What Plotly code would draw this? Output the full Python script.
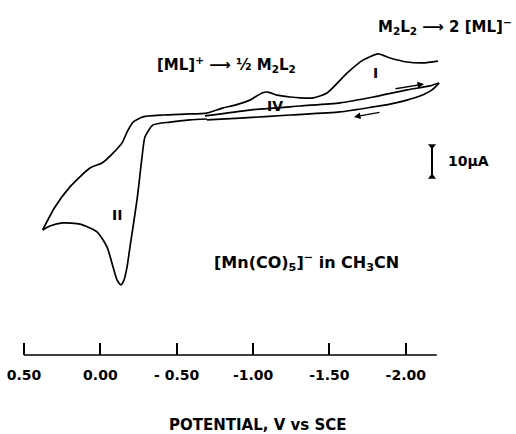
import plotly.graph_objects as go

# Forward/upper branch (from -2.2 V back toward the switching tip at +0.38 V)
V_up = [-2.211, -2.113, -2.008, -1.897, -1.818, -1.720, -1.615, -1.484, -1.393, -1.308,
        -1.242, -1.157, -1.098, -1.059, -0.980, -0.882, -0.803, -0.698, -0.554, -0.410,
        -0.279, -0.214, -0.175, -0.142, -0.083, -0.011, 0.068, 0.199, 0.297, 0.378]
I_up = [54.5, 53.9, 54.2, 55.5, 56.8, 54.8, 50.6, 44.2, 42.6, 42.6,
        42.9, 43.5, 44.5, 44.2, 41.9, 40.3, 39.4, 37.7, 37.4, 37.1,
        36.5, 34.8, 31.6, 28.1, 24.8, 21.6, 20.0, 13.9, 7.4, 0.0]

# Lower branch (from the tip through peak II back to the plateau)
V_low = [0.378, 0.330, 0.245, 0.133, 0.022, -0.044, -0.083, -0.109, -0.135, -0.155,
         -0.175, -0.194, -0.240, -0.273, -0.292, -0.345, -0.456, -0.587, -0.698]
I_low = [0.0, 1.3, 2.3, 1.9, -0.6, -5.5, -11.9, -16.1, -17.7, -16.1,
         -11.9, -5.5, 9.7, 23.5, 30.0, 33.9, 34.8, 35.5, 35.8]

# Narrow loop (second scan between -0.7 and -2.2 V)
V_loop_a = [-0.685, -0.980, -1.308, -1.569, -1.786, -2.008, -2.159, -2.218]
I_loop_a = [36.8, 38.7, 40.0, 41.0, 42.9, 45.2, 46.5, 47.4]
V_loop_b = [-2.218, -2.172, -2.093, -2.008, -1.897, -1.786, -1.569, -1.242, -0.915, -0.698]
I_loop_b = [47.4, 45.2, 43.2, 41.9, 40.6, 39.7, 38.1, 37.1, 36.1, 35.5]

tick_vals = [0.5, 0.0, -0.5, -1.0, -1.5, -2.0]
tick_text = ["0.50", "0.00", "- 0.50", "-1.00", "-1.50", "-2.00"]

scale_V = -2.172
scale_I = [27.1, 17.1]

FONT = "DejaVu Sans"
black = "#000000"

fig = go.Figure()
line = dict(color=black, width=1.7, shape="spline", smoothing=0.6)
for xs, ys in [(V_up, I_up), (V_low, I_low), (V_loop_a, I_loop_a), (V_loop_b, I_loop_b)]:
    fig.add_trace(go.Scatter(x=xs, y=ys, mode="lines", line=line, hoverinfo="skip",
                             showlegend=False))

# scale bar
fig.add_trace(go.Scatter(x=[scale_V, scale_V], y=scale_I, mode="lines+markers",
                         line=dict(color=black, width=2),
                         marker=dict(symbol=["triangle-down", "triangle-up"], size=7, color=black),
                         hoverinfo="skip", showlegend=False))

px_per_V = 152.7
px_per_uA = 3.1
W, H = 516, 434
x_left = 0.5 + 24 / px_per_V
x_right = 0.5 - (W - 24) / px_per_V
y_top = 230 / px_per_uA
y_bot = -(355 - 230) / px_per_uA

fig.update_layout(
    width=W, height=H,
    margin=dict(l=0, r=0, t=0, b=H - 355),
    paper_bgcolor="white", plot_bgcolor="white",
    font=dict(family=FONT, size=14, color=black),
    xaxis=dict(range=[x_left, x_right], showgrid=False, zeroline=False, showline=False,
               tickvals=tick_vals, ticktext=["<b>%s</b>" % t for t in tick_text],
               ticks="inside", ticklen=12, tickwidth=1.5, tickcolor=black,
               ticklabelstandoff=10,
               tickfont=dict(family=FONT, size=14, color=black)),
    yaxis=dict(range=[y_bot, y_top], visible=False),
    shapes=[dict(type="line", xref="x", yref="paper", x0=0.5, x1=-2.203, y0=0, y1=0,
                 line=dict(color=black, width=1.5))],
)

def ann(text, x, y, size=14, xanchor="center", **kw):
    fig.add_annotation(text="<b>%s</b>" % text, x=x, y=y, xref="x", yref="y",
                       showarrow=False, xanchor=xanchor, yanchor="middle",
                       font=dict(family=FONT, size=size, color=black), **kw)

def pV(px):
    return 0.5 - (px - 24) / px_per_V

def pI(py):
    return (230 - py) / px_per_uA

ann("[ML]<sup>+</sup> ⟶ ½ M<sub>2</sub>L<sub>2</sub>", pV(226), pI(64), size=15)
ann("M<sub>2</sub>L<sub>2</sub> ⟶ 2 [ML]<sup>−</sup>", pV(514), pI(26), size=15, xanchor="right")
ann("IV", pV(275), pI(106))
ann("I", pV(375), pI(73))
ann("II", pV(117), pI(215))
ann("[Mn(CO)<sub>5</sub>]<sup>−</sup> in CH<sub>3</sub>CN", pV(306), pI(262), size=16)
ann("10μA", pV(446), pI(161), xanchor="left")

# scan-direction arrows
fig.add_annotation(x=pV(424), y=pI(84), ax=pV(394), ay=pI(89), xref="x", yref="y",
                   axref="x", ayref="y", showarrow=True, arrowhead=2, arrowsize=1,
                   arrowwidth=1.3, arrowcolor=black, text="")
fig.add_annotation(x=pV(354), y=pI(117), ax=pV(381), ay=pI(112), xref="x", yref="y",
                   axref="x", ayref="y", showarrow=True, arrowhead=2, arrowsize=1,
                   arrowwidth=1.3, arrowcolor=black, text="")

# axis title
fig.add_annotation(text="<b>POTENTIAL, V vs SCE</b>", xref="paper", yref="paper",
                   x=258 / W, y=-(425 - 355) / 355, showarrow=False,
                   xanchor="center", yanchor="middle",
                   font=dict(family=FONT, size=15, color=black))

fig.write_html("out.html")
